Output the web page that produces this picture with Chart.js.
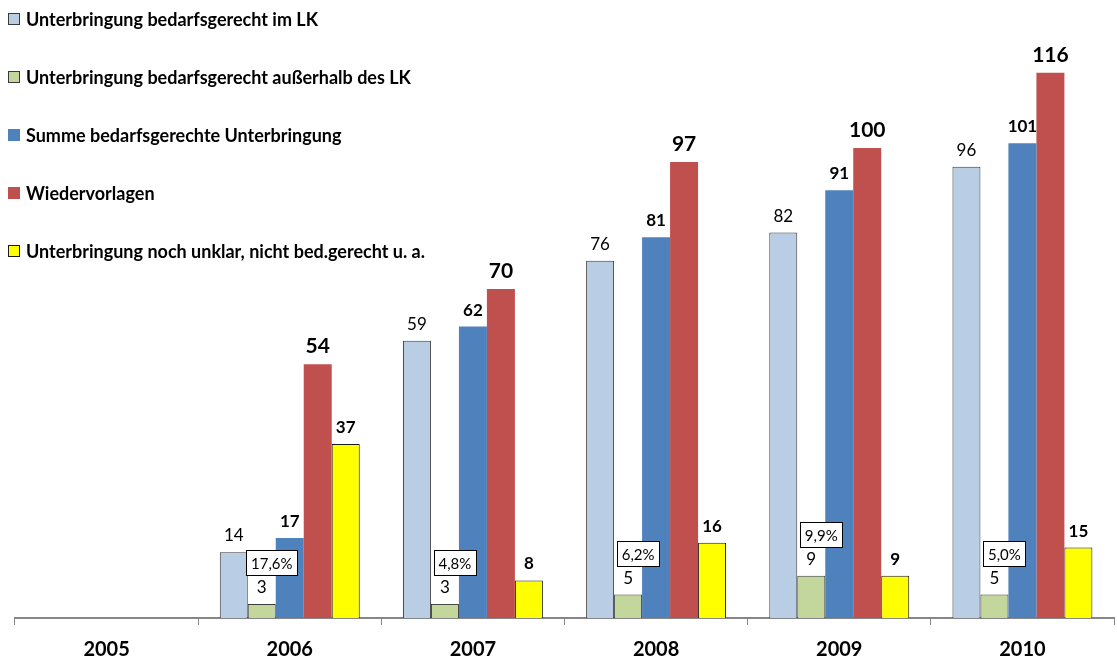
<!DOCTYPE html>
<html>
<head>
<meta charset="utf-8">
<script src="https://cdn.jsdelivr.net/npm/chart.js@4.4.0/dist/chart.umd.min.js"></script>
<style>
html,body{margin:0;padding:0;background:#fff;}
#wrap{width:1117px;height:661px;position:relative;}
</style>
</head>
<body>
<div id="wrap"><canvas id="c" width="1117" height="661"></canvas></div>
<script>
const categories = ["2005","2006","2007","2008","2009","2010"];
const seriesNames = [
  "Unterbringung bedarfsgerecht im LK",
  "Unterbringung bedarfsgerecht außerhalb des LK",
  "Summe bedarfsgerechte Unterbringung",
  "Wiedervorlagen",
  "Unterbringung noch unklar, nicht bed.gerecht u. a."
];
const imLK      = [null, 14, 59, 76, 82, 96];
const ausserLK  = [null, 3, 3, 5, 9, 5];
const summe     = [null, 17, 62, 81, 91, 101];
const wieder    = [null, 54, 70, 97, 100, 116];
const unklar    = [null, 37, 8, 16, 9, 15];
const anteilLabels = ["", "17,6%", "4,8%", "6,2%", "9,9%", "5,0%"];

const FONT = "Lato, 'Open Sans', sans-serif";
const fills = ["#B9CDE5", "#C3D69B", "#4F81BD", "#C0504D", "#FFFF00"];
const borders = ["#3a3a3a", "#3a3a3a", "#4F81BD", "#C0504D", "#1a1a1a"];
const borderW = [1, 1, 0, 0, 1];
const labelStyle = [
  {w:"normal", s:17},
  {w:"normal", s:17},
  {w:"bold", s:17},
  {w:"bold", s:21},
  {w:"bold", s:17}
];
const allData = [imLK, ausserLK, summe, wieder, unklar];

const datasets = allData.map((d, i) => ({
  label: seriesNames[i],
  data: d,
  backgroundColor: fills[i],
  borderColor: borders[i],
  borderWidth: borderW[i],
  borderSkipped: 'bottom',
  barPercentage: 1.0,
  categoryPercentage: 0.764
}));

const labelPlugin = {
  id: 'labels',
  afterDatasetsDraw(chart) {
    const ctx = chart.ctx;
    ctx.save();
    chart.data.datasets.forEach((ds, i) => {
      const meta = chart.getDatasetMeta(i);
      meta.data.forEach((bar, j) => {
        const v = ds.data[j];
        if (v === null || v === undefined) return;
        const st = labelStyle[i];
        ctx.font = st.w + " " + st.s + "px " + FONT;
        ctx.fillStyle = "#000";
        ctx.textAlign = "center";
        ctx.textBaseline = "alphabetic";
        ctx.fillText(String(v), bar.x, bar.y - 11);
        if (i === 1 && anteilLabels[j]) {
          const t = anteilLabels[j];
          ctx.font = "normal 15px " + FONT;
          const tw = ctx.measureText(t).width;
          const bw = Math.round(tw + 9), bh = 25;
          const cx = bar.x + 10;
          const by = Math.round(bar.y - 29 - bh);
          const bx = Math.round(cx - bw/2);
          ctx.fillStyle = "#fff";
          ctx.fillRect(bx, by, bw, bh);
          ctx.strokeStyle = "#000";
          ctx.lineWidth = 1;
          ctx.strokeRect(bx + 0.5, by + 0.5, bw, bh);
          ctx.fillStyle = "#000";
          ctx.textBaseline = "middle";
          ctx.fillText(t, cx, by + bh/2 + 1.5);
        }
      });
    });
    ctx.restore();
  }
};

const legendPlugin = {
  id: 'customLegend',
  afterDraw(chart) {
    const ctx = chart.ctx;
    ctx.save();
    const ys = [19, 77, 135, 193, 251];
    seriesNames.forEach((n, i) => {
      const y = ys[i];
      ctx.fillStyle = fills[i];
      ctx.fillRect(8, y - 6, 12, 12);
      if (borderW[i]) {
        ctx.strokeStyle = borders[i];
        ctx.lineWidth = 1;
        ctx.strokeRect(8.5, y - 5.5, 11, 11);
      }
      ctx.fillStyle = "#000";
      ctx.font = "bold 18px " + FONT;
      ctx.textAlign = "left";
      ctx.textBaseline = "middle";
      ctx.fillText(n, 26, y + 1);
    });
    ctx.restore();
  }
};

new Chart(document.getElementById('c'), {
  type: 'bar',
  data: { labels: categories, datasets: datasets },
  options: {
    responsive: false,
    animation: false,
    layout: { padding: { left: 15, right: 3, top: 7, bottom: 0 } },
    plugins: { legend: { display: false }, tooltip: { enabled: false } },
    scales: {
      x: {
        offset: true,
        afterFit(scale) { scale.height = 43; },
        grid: { display: true, offset: true, drawOnChartArea: false, drawTicks: true, tickLength: 7, color: "#868686", lineWidth: 1 },
        border: { display: true, color: "#868686", width: 2 },
        ticks: { color: "#000", font: { family: FONT, size: 20, weight: "bold" }, padding: 13 }
      },
      y: {
        display: false,
        min: 0,
        max: 130
      }
    }
  },
  plugins: [labelPlugin, legendPlugin]
});
</script>
</body>
</html>
